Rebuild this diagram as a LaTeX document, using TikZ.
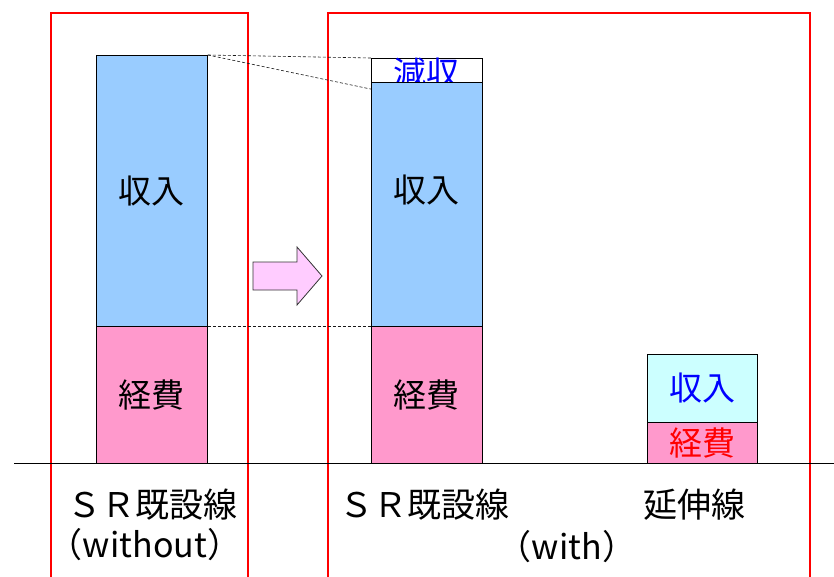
\documentclass[tikz,border=0pt]{standalone}
\usepackage{fontspec}
\setmainfont{Noto Sans CJK JP}
\begin{document}
\begin{tikzpicture}[x=1pt,y=-1pt,
  bar/.style={draw=black, line width=0.8pt, inner sep=0pt, anchor=north west, font=\fontsize{33}{33}\selectfont},
  txt/.style={inner sep=0pt, font=\fontsize{33}{33}\selectfont},
  frame/.style={draw=red, line width=1.6pt},
  guide/.style={densely dashed, line width=0.6pt, draw=black!90},
  lbl/.style={font=\fontsize{34}{34}\selectfont, inner sep=0pt}
]
\useasboundingbox (0,0) rectangle (834,576);
% red frames
\draw[frame] (51,580) -- (51,13) -- (248,13) -- (248,580);
\draw[frame] (328,580) -- (328,13) -- (810,13) -- (810,580);
% ground line
\coordinate (gl) at (14,463);
\coordinate (gr) at (834,463);
\draw[line width=0.8pt] (gl) -- (gr);
% left bar
\node[bar, fill={rgb,255:red,153;green,204;blue,255}, minimum width=111pt, minimum height=271pt] (inc1) at (96,55) {収入};
\node[bar, fill={rgb,255:red,255;green,153;blue,204}, minimum width=111pt, minimum height=137pt] (exp1) at (96,326) {経費};
% middle bar
\node[bar, fill=white, minimum width=111pt, minimum height=24pt, text=blue] (cut2) at (371,58) {減収};
\node[bar, fill={rgb,255:red,153;green,204;blue,255}, minimum width=111pt, minimum height=244pt] (inc2) at (371,82) {};
\node[txt] (inc2t) at (426.5,190) {収入};
\node[bar, fill={rgb,255:red,255;green,153;blue,204}, minimum width=111pt, minimum height=137pt] (exp2) at (371,326) {経費};
% right bar
\node[bar, fill={rgb,255:red,204;green,255;blue,255}, minimum width=110pt, minimum height=68pt, text=blue] (inc3) at (647,354) {収入};
\node[bar, fill={rgb,255:red,255;green,153;blue,204}, minimum width=110pt, minimum height=41pt, text=red] (exp3) at (647,422) {経費};
% guides
\draw[guide] (inc1.north east) -- (cut2.north west);
\draw[guide] (inc1.north east) -- (cut2.south west);
\draw[guide] (exp1.north east) -- (exp2.north west);
% arrow
\draw[line width=0.8pt, draw=black!80, fill={rgb,255:red,255;green,204;blue,255}]
  (253,262) -- (297,262) -- (297,247) -- (322,276) -- (297,305) -- (297,290) -- (253,290) -- cycle;
% labels
\node[lbl] (l1) at (152,505) {ＳＲ既設線};
\node[lbl] (l1b) at (145,545) {（without）};
\node[lbl] (l2) at (424,505) {ＳＲ既設線};
\node[lbl] (l2b) at (567,547) {（with）};
\node[lbl] (l3) at (694,505) {延伸線};
\end{tikzpicture}
\end{document}
